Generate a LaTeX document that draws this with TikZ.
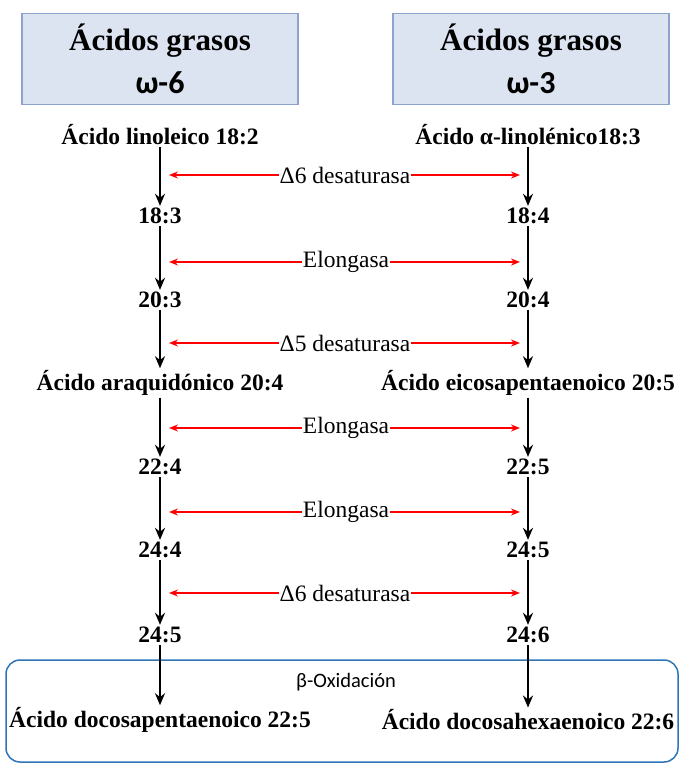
\documentclass[tikz,border=0pt]{standalone}
\usepackage{fontspec}
\setmainfont{Liberation Serif}
\newfontfamily\calibri{Carlito}
\usetikzlibrary{arrows.meta, positioning}

\definecolor{headfill}{HTML}{DCE3F1}
\definecolor{headdraw}{HTML}{8EA3CC}
\definecolor{oxblue}{HTML}{2E75B6}

\begin{document}
\begin{tikzpicture}[x=1pt, y=-1pt, >=Stealth,
  acid/.style={font=\fontsize{23.5}{26}\selectfont\bfseries, inner sep=2pt},
  head/.style={draw=headdraw, fill=headfill, line width=1.2pt, minimum width=276pt, minimum height=91pt, align=center, font=\fontsize{31}{43}\selectfont\bfseries},
  enz/.style={font=\fontsize{23.5}{26}\selectfont, inner sep=0.5pt},
  flow/.style={line width=2.6pt, -{Stealth[length=12pt,width=10pt]}},
  enzarr/.style={red, line width=1.5pt, -{Stealth[length=9pt,width=7pt]}},
  oxbox/.style={draw=oxblue, line width=1.5pt, rounded corners=14pt, minimum width=672pt, minimum height=102pt}]
\useasboundingbox (0,0) rectangle (682,764);

\node[head] (h6) at (160,59) {Ácidos grasos\\{\calibri\fontsize{32}{43}\selectfont ω-6}};
\node[head] (h3) at (531,59) {Ácidos grasos\\{\calibri\fontsize{32}{43}\selectfont ω-3}};

\node[oxbox] (ox) at (342,711) {};
\node[font=\calibri\fontsize{20.5}{24}\selectfont] (bo) at (346,682) {β-Oxidación};

% omega-6
\node[acid] (a1) at (160,135) {Ácido linoleico 18:2};
\node[acid] (a2) at (160,216) {18:3};
\node[acid] (a3) at (160,300) {20:3};
\node[acid] (a4) at (160,383) {Ácido araquidónico 20:4};
\node[acid] (a5) at (160,467) {22:4};
\node[acid] (a6) at (160,550) {24:4};
\node[acid] (a7) at (160,635) {24:5};
\node[acid] (a8) at (160,720) {Ácido docosapentaenoico 22:5};

% omega-3
\node[acid] (b1) at (528,135) {Ácido α-linolénico18:3};
\node[acid] (b2) at (528,216) {18:4};
\node[acid] (b3) at (528,300) {20:4};
\node[acid] (b4) at (528,383) {Ácido eicosapentaenoico 20:5};
\node[acid] (b5) at (528,467) {22:5};
\node[acid] (b6) at (528,550) {24:5};
\node[acid] (b7) at (528,635) {24:6};
\node[acid] (b8) at (528,720) {Ácido docosahexaenoico 22:6};

\draw[flow] (a1) -- (a2);
\draw[flow] (a2) -- (a3);
\draw[flow] (a3) -- (a4);
\draw[flow] (a4) -- (a5);
\draw[flow] (a5) -- (a6);
\draw[flow] (a6) -- (a7);
\draw[flow] (a7) -- (a8);

\draw[flow] (b1) -- (b2);
\draw[flow] (b2) -- (b3);
\draw[flow] (b3) -- (b4);
\draw[flow] (b4) -- (b5);
\draw[flow] (b5) -- (b6);
\draw[flow] (b6) -- (b7);
\draw[flow] (b7) -- (b8);

% enzymes
\node[enz] (e1) at (345,175) {Δ6 desaturasa};
\node[enz] (e2) at (346,262) {Elongasa};
\node[enz] (e3) at (345,343) {Δ5 desaturasa};
\node[enz] (e4) at (346,428) {Elongasa};
\node[enz] (e5) at (346,512) {Elongasa};
\node[enz] (e6) at (345,593) {Δ6 desaturasa};

\coordinate (e1l) at (169,175); \coordinate (e1r) at (520,175);
\coordinate (e2l) at (169,262); \coordinate (e2r) at (520,262);
\coordinate (e3l) at (169,343); \coordinate (e3r) at (520,343);
\coordinate (e4l) at (169,428); \coordinate (e4r) at (520,428);
\coordinate (e5l) at (169,512); \coordinate (e5r) at (520,512);
\coordinate (e6l) at (169,593); \coordinate (e6r) at (520,593);

\draw[enzarr] (e1) -- (e1l); \draw[enzarr] (e1) -- (e1r);
\draw[enzarr] (e2) -- (e2l); \draw[enzarr] (e2) -- (e2r);
\draw[enzarr] (e3) -- (e3l); \draw[enzarr] (e3) -- (e3r);
\draw[enzarr] (e4) -- (e4l); \draw[enzarr] (e4) -- (e4r);
\draw[enzarr] (e5) -- (e5l); \draw[enzarr] (e5) -- (e5r);
\draw[enzarr] (e6) -- (e6l); \draw[enzarr] (e6) -- (e6r);
\end{tikzpicture}
\end{document}
